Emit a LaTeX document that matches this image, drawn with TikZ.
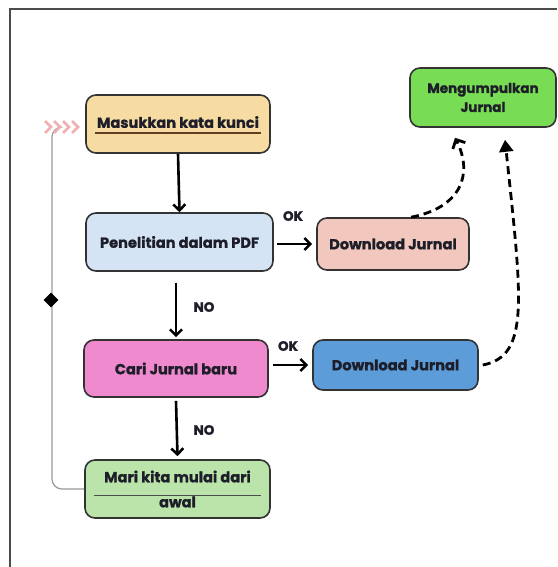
\documentclass[tikz,border=0pt]{standalone}
\usepackage{fontspec}
\setmainfont{Poppins}[BoldFeatures={FakeBold=1.2}]
\usetikzlibrary{arrows.meta,calc,shapes.geometric}
\definecolor{txt}{HTML}{1E1E2A}
\definecolor{c1}{HTML}{F6DCA2}
\definecolor{c2}{HTML}{D4E4F5}
\definecolor{c3}{HTML}{F2C8BE}
\definecolor{c4}{HTML}{EE8ACD}
\definecolor{c5}{HTML}{5C9CD8}
\definecolor{c6}{HTML}{BAE4A9}
\definecolor{c7}{HTML}{78DC55}
\definecolor{chev}{HTML}{F0B0B0}
\tikzset{
  box/.style={draw=black!80, line width=1.6pt, rounded corners=10pt, align=center,
    font=\bfseries\fontsize{14.6}{19}\selectfont, text=txt, inner sep=2pt},
  flow/.style={line width=2.6pt, -{Straight Barb[length=6pt,width=12pt,line width=2.6pt]}},
  dflow/.style={line width=2.8pt, dash pattern=on 8pt off 5pt},
  lbl/.style={font=\bfseries\fontsize{13.5}{16}\selectfont, text=txt},
  back/.style={draw=black!40, line width=1.2pt, rounded corners=10pt}
}
\begin{document}
\begin{tikzpicture}[x=1pt,y=-1pt]
\useasboundingbox (0,0) rectangle (557,567);
\fill[white] (0,0) rectangle (557,567);
\draw[line width=1.8pt, black!70] (10,567) -- (10,9) -- (557,9);

\node[box, fill=c1, minimum width=184, minimum height=58] (b1) at (178,124) {\raisebox{4pt}{Masukkan kata kunci}};
\node[box, fill=c2, minimum width=187, minimum height=58] (b2) at (179.5,242) {Penelitian dalam PDF};
\node[box, fill=c3, minimum width=152, minimum height=52] (b3) at (393,244) {Download Jurnal};
\node[box, fill=c4, minimum width=184, minimum height=57] (b4) at (176,368.5) {Cari Jurnal baru};
\node[box, fill=c5, minimum width=165, minimum height=50] (b5) at (395.5,365) {Download Jurnal};
\node[box, fill=c6, minimum width=185, minimum height=58, font=\bfseries\fontsize{14.6}{23}\selectfont] (b6) at (177.5,489) {\raisebox{2pt}{Mari kita mulai dari}\\awal};
\node[box, fill=c7, minimum width=146, minimum height=59, font=\bfseries\fontsize{13.5}{19}\selectfont] (b7) at (483,97.5) {Mengumpulkan\\Jurnal};

% underlines
\draw[line width=1.2pt, black!50!brown] ([xshift=10pt,yshift=-9pt]b1.west) -- ([xshift=-10pt,yshift=-9pt]b1.east);
\draw[line width=1.1pt, black!70] ([xshift=10pt,yshift=-6.5pt]b6.west) -- ([xshift=-10pt,yshift=-6.5pt]b6.east);

% vertical flow
\draw[flow] (b1.south) -- (b2.north);
\draw[flow] ([yshift=-11pt]b2.south -| b4.north) -- ([yshift=2pt]b4.north);
\node[lbl] (no1) at (204,307) {NO};
\draw[flow] ([yshift=-3pt]b4.south) -- ([yshift=3pt]b6.north);
\node[lbl] (no2) at (204,430) {NO};

% horizontal flow
\draw[flow] ([xshift=3pt]b2.east |- b3.west) -- ([xshift=-4pt]b3.west);
\node[lbl] (ok1) at (293,216) {OK};
\draw[flow] ([xshift=4pt]b4.east |- b5.west) -- ([xshift=-4pt]b5.west);
\node[lbl] (ok2) at (288,346) {OK};

% dashed to final
\coordinate (s1) at ([xshift=18pt]b3.north);
\coordinate (e1) at ([xshift=-28pt,yshift=-10pt]b7.south);
\draw[dflow, -{Straight Barb[length=7pt,width=14pt,line width=2.8pt]}] (s1) .. controls (460,208) and (474,175) .. (e1);
\coordinate (s2) at ([xshift=4pt]b5.east);
\coordinate (e2) at ([xshift=22pt,yshift=-12pt]b7.south);
\draw[dflow, -{Triangle[length=12pt,width=14pt]}] (s2) .. controls (530,356) and (522,300) .. (e2);

% loop back line
\coordinate (lp) at (62,127);
\draw[back] (b6.west) -- (52,489) -- (52,127) -- (lp);
\node[fill=black, diamond, minimum size=15pt, inner sep=0pt] (dm) at (51,300) {};
% chevrons
\foreach \i in {0,1,2,3} {
  \draw[chev, line width=2.8pt] (45+9*\i,121) -- (51+9*\i,127) -- (45+9*\i,133);
}
\end{tikzpicture}
\end{document}
